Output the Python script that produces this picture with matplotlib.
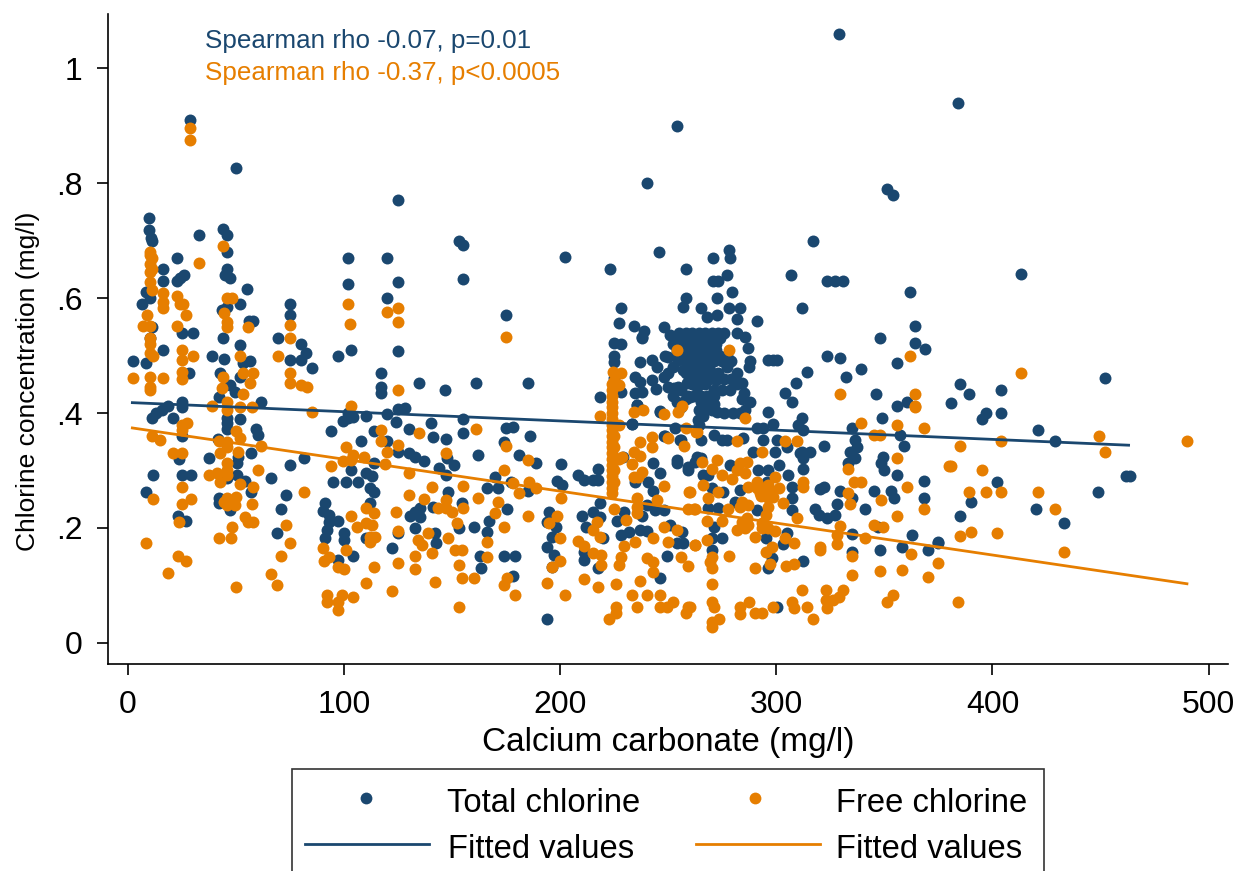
import numpy as np
import matplotlib
matplotlib.use('Agg')
import matplotlib.pyplot as plt
from matplotlib.lines import Line2D
from matplotlib.patches import Rectangle

W, H = 1239, 871
NAVY, ORANGE = '#1a476f', '#e67e00'

# values: (calcium carbonate, chlorine)
total_left = [(28.7,.91),(50,.826),(9.7,.74),(9.7,.718),(10.5,.705),(11,.70),(33,.71),(44,.72),(46,.71),(46,.68),
    (22.6,.67),(102,.67),(120,.67),(125,.77),(102,.625),(125,.627),(120,.60),(16,.65),(16,.63),(22.7,.63),(26,.64),
    (24,.635),(46,.65),(45,.64),(47,.635),(55,.615),(52,.59),(6.6,.59),(8.5,.61),(10,.60),(75,.59),(75,.57),(58,.56),
    (56,.56),(43.5,.58),(46,.585),(11,.55),(10,.53),(25,.54),(30,.54),(44,.53),(69.5,.53),(52,.518),(80,.52),(16,.51),
    (82.5,.505),(39,.50),(103,.51),(97,.50),(125,.508),(2.5,.49),(44.5,.494),(8.5,.487),(75,.492),(80,.492),(56.5,.49),
    (53,.487),(85,.478),(28,.47),(42.6,.47),(117,.47),(52,.463),(117,.445),(117,.435),(47,.449),(49.5,.437),(42,.428),
    (61.5,.42),(25,.419),(25,.41),(18.5,.412),(15.5,.405),(13,.40),(11,.391),(20.6,.391),(46,.391),(46,.382),(52,.39),
    (102,.40),(102,.391),(99.5,.386),(104,.393),(110,.395),(120,.398),(125,.407),(124,.384),(46,.372),(25,.36),(59,.372),
    (60,.362),(94,.369),(114,.369),(108,.351),(41.7,.355),(120,.351),(125,.332),(37.5,.322),(23.6,.32),(57,.33),(51,.323),
    (50.5,.313),(75,.31),(81.5,.322),(114,.313),(103,.30),(110,.295),(113,.29),(11.5,.292),(25,.292),(29,.292),(50.5,.292),
    (46,.287),(54,.282),(66,.287),(95,.28),(101,.28),(106.5,.28),(112,.27),(114,.263),(8.5,.263),(57,.263),(73,.257),
    (42,.252),(42,.243),(91,.243),(90,.23),(93,.222),(97,.212),(93,.21),(92,.197),(112,.243),(47,.231),(71,.233),(23,.22),
    (27,.212),(69,.191),(100,.191),(100,.179),(110,.183),(91,.183),(104,.151),(97,.144),(122,.165),(125,.191)]
total_mid = [(134.7,.452),(146.8,.44),(161,.452),(185,.453),(128,.408),(140,.382),(155,.39),(155,.365),(130,.372),
    (141,.358),(147,.355),(175,.374),(178,.376),(186,.36),(174,.35),(162,.327),(181,.327),(189,.313),(133,.323),(137,.317),
    (130,.33),(147.5,.322),(151,.31),(144,.304),(147,.292),(170,.289),(166,.27),(171,.27),(177,.28),(185,.264),(200.5,.311),
    (208,.292),(211,.283),(217.6,.302),(217.6,.283),(215,.283),(198.6,.282),(201,.275),(148,.263),(135,.235),(133,.228),
    (130.6,.221),(135,.219),(141,.237),(154.6,.243),(175.5,.233),(167,.212),(166,.193),(160,.202),(153,.20),(133,.20),
    (142,.191),(142.5,.174),(195,.228),(194,.21),(198,.202),(196,.184),(194,.167),(197,.153),(210,.221),(212,.202),
    (218.5,.243),(215,.228),(218.5,.219),(220,.183),(211,.158),(211,.144),(217.6,.13),(174,.151),(179,.151),(163,.151),
    (163.4,.13),(178,.117),(196,.132),(194,.042),(246,.113),(249.5,.151),(257,.174),(254,.174),(153,.70),(155,.692),
    (202,.671),(155,.633),(175,.57),(223,.65)]
total_near_column = [(225,.521),(228,.52),(225,.50),(225,.489),(225,.461),(218.5,.428),(237,.489),(242.6,.492),(245,.48),
    (248,.463),(234.7,.463),(237,.454),(242.6,.457),(244.4,.442),(234.7,.435),(238,.436),(228,.437),(238,.532),(235.6,.414),
    (246,.402),(233,.381),(248.6,.50),(248.6,.36),(256,.353),(254,.313),(259,.306),(259,.30),(243,.313),(246,.296),
    (240.7,.28),(243,.264),(234.7,.28),(229,.323),(240,.24),(244,.231),(248,.231),(226.4,.212),(229.6,.228),(238,.221),
    (228,.188),(232,.193),(237,.197),(240,.195),(251,.205),(256.5,.193)]
total_upper = [(245.6,.68),(258,.65),(270.6,.67),(278,.684),(278.6,.67),(317,.70),(307,.64),(270.6,.63),(273,.63),(277,.64),
    (323.6,.63),(327,.63),(331,.63),(258,.60),(257,.585),(279.6,.61),(272.7,.60),(228,.582),(265,.582),(278,.582),(283,.582),
    (282,.564),(312,.582),(227,.556),(234,.551),(238.6,.543),(238,.53),(248,.55),(251,.536),(268,.567),(272.7,.57),(291,.56),
    (240,.80),(254,.90),(329,1.06),(384,.94),(351,.79),(354,.78),(362,.61),(364,.551),(364,.522),(369,.511),(348,.53),
    (356,.487),(339,.476),(346,.433)]
total_cluster = [(255,.54),(258,.54),(261,.54),(264,.54),(267,.54),(270,.54),(273,.54),(276,.54),(282,.54),
    (253,.53),(256,.53),(259,.53),(262,.53),(265,.53),(268,.53),(271,.53),(274,.53),(285.6,.533),
    (252,.52),(255,.52),(258,.52),(261,.52),(264,.52),(267,.52),(270,.52),(272,.52),
    (254,.51),(257,.51),(260,.51),(263,.51),(266,.51),(269,.51),(272,.51),(287,.513),
    (250,.497),(255,.50),(258,.50),(261,.50),(264,.50),(267,.50),(270,.50),(274,.50),(277,.50),
    (254.6,.492),(258,.49),(261,.49),(264,.49),(267,.49),(271,.49),(275,.49),(279,.49),(288,.49),
    (257,.475),(260,.48),(263,.48),(266,.48),(269,.48),(277,.48),(287.5,.48),(282,.47),
    (258,.47),(261,.47),(264,.47),(267,.47),(270,.47),(273,.47),(260,.46),(263,.46),(266,.46),(269,.46),(272,.457),
    (258.8,.452),(261,.45),(264,.45),(267,.45),(254.6,.445),(252.5,.443),(263.4,.445),(271,.44),(278.7,.44),(284,.452),(285,.435),
    (256,.44),(259,.43),(262,.43),(265,.43),(268,.43),(271,.43),(275,.44),(260,.427),(288,.42),(265,.42),(268,.42),(271,.415),
    (264,.405),(285.6,.405),(280,.40),(272.7,.402),(276,.40),(283,.40),(268,.41),(263.6,.388),(266,.395),(264,.38),
    (250,.47),(252,.48),(250,.445),(252,.43),(254,.42),(256,.41),(258,.425),(276,.46),(279,.46),(282,.45),(270,.405),(284,.425)]
total_right = [(296,.492),(298.6,.492),(300.4,.492),(323.6,.50),(329.6,.496),(332.4,.462),(314,.472),(309,.452),(304,.435),
    (307.4,.42),(296,.402),(298.6,.381),(312,.391),(310,.379),(312.5,.37),(322,.343),(294,.353),(291,.374),(294,.374),
    (277,.353),(275,.353),(284.7,.356),(271,.362),(265,.353),(253,.374),(248,.36),(255.6,.353),(300.4,.353),(299.5,.332),
    (305,.341),(311,.33),(315.7,.332),(233,.381),(246,.403),(235.6,.414),(289,.332),(263.4,.323),(254,.318),(335,.374),
    (349,.391),(356,.412),(360.6,.42),(357,.362),(359,.343),(336.6,.353),(337.5,.341),(334,.332),(336.6,.322),(333,.313),
    (312,.332),(312.5,.322),(349.5,.323),(348.6,.313),(350,.30),(312.5,.302),(356,.292),(368.5,.282),(368.5,.252),(320,.268),
    (322,.271),(329.6,.264),(345,.264),(353,.264),(354.6,.252),(328,.242),(335,.252),(341,.233),(318,.233),(319.6,.222),
    (323.6,.217),(327,.222),(335,.19),(347,.202),(363,.188),(375,.176),(358,.167),(348,.162),(370,.162),(335,.158),(312.5,.143),
    (300.4,.063),(265,.322),(278.7,.31),(262.5,.315),(266,.292),(268.5,.292),(291.7,.30),(296,.30),(301,.31),(305.6,.292),
    (295.8,.28),(307.4,.271),(307.4,.252),(307.4,.231),(283,.266),(281,.245),(291,.231),(270.4,.27),(275.5,.263),(268.5,.235),
    (273,.235),(271,.202),(275,.183),(270.4,.183),(270,.162),(295,.183),(303,.172),(305,.191),(298,.148),(296,.13),
    (413,.641),(452,.461),(385,.45),(389,.433),(381,.417),(404,.44),(404,.40),(396.8,.40),(395,.39),(421,.37),(429,.351),
    (462,.29),(463.5,.29),(402,.28),(390,.245),(449,.263),(385,.221),(420,.233),(433,.209),(374.7,.174)]

free_left = [(28.7,.895),(28.7,.875),(44,.69),(33,.661),(10,.68),(10,.675),(11,.67),(10,.66),(11,.65),(10,.645),(10,.628),
    (11,.614),(16,.608),(16,.593),(16,.582),(22.6,.603),(24,.59),(25.6,.59),(27,.57),(22.7,.551),(8.7,.57),(7,.551),(10,.551),
    (10,.53),(46,.60),(48,.60),(44.5,.574),(46,.558),(46,.55),(55.6,.55),(75,.553),(75,.53),(102,.59),(102.5,.555),(120,.576),
    (125,.582),(125,.558),(10,.52),(10,.505),(11.5,.50),(25,.51),(25,.492),(30,.50),(52,.50),(69.5,.50),(2.5,.461),(10,.463),
    (10,.445),(10,.44),(16,.461),(25,.472),(25,.46),(44,.463),(43.5,.443),(53,.47),(58,.47),(56.5,.452),(53,.433),(75,.47),
    (75,.452),(80,.449),(83,.445),(125,.44),(39,.412),(46,.42),(46,.405),(52,.41),(57.5,.41),(103,.412),(85,.402),(25,.379),
    (27.5,.382),(25,.37),(11,.36),(15,.353),(42,.352),(46,.35),(50,.369),(52,.356),(46,.34),(61.5,.343),(42.6,.33),(51,.332),
    (20.6,.33),(25,.33),(117,.37),(117,.351),(120,.332),(125,.345),(101,.341),(104,.327),(99.5,.316),(103,.318),(109,.324),
    (94,.308),(119,.311),(46,.313),(46,.30),(46,.292),(41,.295),(37.5,.292),(42.6,.28),(60,.30),(52,.276),(58,.271),(25,.271),
    (81.5,.263),(11.5,.25),(29,.25),(25,.242),(46,.252),(50,.254),(46,.24),(49.5,.24),(44.5,.246),(57.5,.242),(110,.235),
    (114,.226),(113,.205),(110,.209),(106,.202),(103,.221),(124,.228),(54,.219),(55.7,.21),(58,.21),(23.6,.21),(48,.202),
    (73,.205),(125,.195),(112,.184),(114.5,.184),(112,.176),(42,.183),(47.5,.183),(8.5,.174),(75,.174),(101,.162),(90,.165),
    (93,.15),(90.5,.143),(71,.151),(23,.151),(27,.143),(97,.132),(100,.129),(114,.132),(125,.139),(18.7,.122),(66,.12),(69,.10),
    (110,.104),(50,.097),(122,.09),(92,.083),(92,.071),(104,.08),(99,.083),(97,.071),(97,.057)]
free_mid = [(175,.532),(254,.51),(161,.372),(134.7,.365),(175,.342),(147,.33),(185,.318),(174,.30),(130,.295),(140.6,.271),
    (155,.273),(178,.278),(185.6,.28),(189,.27),(181,.26),(200.5,.252),(130,.257),(137,.25),(162,.252),(171,.245),(170,.226),
    (147,.249),(143.5,.235),(147,.235),(150,.228),(152,.209),(155,.235),(185,.221),(174,.202),(139,.191),(148,.183),(134,.179),
    (136,.17),(166,.176),(151.5,.162),(154.6,.162),(140.6,.156),(133,.151),(166,.15),(153,.136),(133,.129),(154.6,.113),(160,.113),
    (142,.106),(175.5,.113),(174,.10),(179,.083),(153,.063),(198.6,.221),(195,.209),(199.7,.183),(208,.177),(211,.169),(217,.21),
    (215,.197),(218.5,.184),(225,.233),(230.6,.214),(215,.156),(219,.153),(219,.136),(200,.143),(196,.132),(211,.111),(194,.104),
    (202,.083),(217.6,.097),(226,.103),(226,.063),(226,.052),(222.7,.042),(233,.083),(240,.083),(246,.083),(235.6,.063),(246,.063),
    (249.5,.063),(252,.071),(259,.063),(258,.052),(237,.108),(228,.15),(227,.136),(229.6,.169),(234.7,.176),(243,.183),(250,.176),
    (240,.148),(243,.141),(243,.123),(256,.15),(259,.134),(262.5,.17),(248,.202),(254,.197),(235.6,.252),(235.6,.237),(235.6,.226),
    (245,.249),(259,.233),(262.5,.233),(259.7,.263),(248,.273),(234,.332),(237,.325),(233,.311),(237,.35),(242.6,.358),(242.6,.341),
    (250,.356),(257.5,.343),(234,.402),(238.4,.405),(248,.398),(254.6,.402),(256.5,.412),(218.5,.395),(258,.374),(263,.367),
    (234,.289),(238,.297),(236,.289),(228.6,.323),(227,.449),(224.5,.471),(228,.47),(278,.51)]
free_column = [(224,.45),(224,.44),(224,.43),(224,.42),(224,.41),(224,.40),(224,.39),(224,.38),(224,.37),(224,.36),(224,.35),
    (224,.34),(224,.33),(224,.32),(224,.31),(224,.30),(224,.29),(224,.28),(224,.27),(224,.26),(225,.455),(225,.38),(225,.36),
    (225,.34),(225,.32),(225,.30),(225,.28),(227,.38),(227,.32)]
free_right = [(285.6,.391),(263.5,.367),(281.6,.351),(304,.351),(309.7,.351),(293.5,.332),(272.7,.318),(265.4,.315),(333,.302),
    (270.4,.302),(275,.292),(279.6,.285),(266,.275),(273,.263),(268.5,.252),(262,.233),(277.8,.233),(268,.212),(275,.212),(260,.263),
    (283,.313),(286.6,.315),(282,.30),(285.6,.296),(287,.271),(291,.28),(292.6,.26),(295.8,.254),(299.5,.289),(301,.27),(298.6,.254),
    (303,.243),(294,.27),(296,.275),(291,.27),(297,.265),(293,.255),(284,.245),(283,.237),(287,.24),(296,.237),(295,.222),(293.5,.209),
    (293.5,.20),(286.6,.217),(284,.21),(287,.205),(282,.197),(285.6,.20),(296,.20),(299.5,.195),(290,.184),(312.5,.28),(312.5,.271),
    (336,.28),(339,.28),(333,.261),(334,.242),(348.6,.249),(360.6,.271),(356,.221),(368.5,.233),(309.7,.217),(345,.205),(349.5,.202),
    (329.6,.203),(328,.188),(328,.172),(341,.183),(304,.183),(308,.174),(320,.167),(320,.162),(298,.167),(295,.158),(335,.151),(262.5,.17),
    (268,.179),(278,.151),(270.4,.15),(269.5,.141),(270,.13),(297,.137),(290,.13),(304.6,.134),(308,.137),(362.5,.155),(375,.139),
    (358,.127),(348,.125),(370,.115),(335,.118),(270,.103),(312,.092),(323,.092),(323,.075),(323.6,.061),(326.4,.075),(331,.092),(329,.08),
    (354,.083),(351,.071),(270.4,.071),(271,.063),(283,.063),(283,.05),(287.5,.071),(290,.052),(293.5,.052),(298.6,.063),(307.4,.071),
    (308,.061),(314,.063),(317,.042),(273.6,.042),(270.4,.037),(270.4,.028),(260,.063),(339,.382),(356,.379),(368.5,.374),(364,.412),
    (345,.362),(348,.362),(356,.322),(380,.308),(362,.50),(329.6,.433),(364,.433),(364,.41),(413,.47),(449.5,.36),(452,.332),(490,.351),
    (404,.351),(385,.343),(381,.308),(395,.30),(389,.263),(396.8,.263),(404,.263),(421,.263),(429,.233),(385,.186),(390,.193),(402,.191),
    (433,.158),(384,.071)]

fit_total_x, fit_total_y = [2, 463], [.418, .344]
fit_free_x, fit_free_y = [2, 490], [.374, .103]

x_ticks = [0, 100, 200, 300, 400, 500]
y_ticks = [0, .2, .4, .6, .8, 1]
y_labels = ['0', '.2', '.4', '.6', '.8', '1']

plt.rcParams['font.family'] = ['Liberation Sans', 'DejaVu Sans']

def fx(px):
    return px / W

def fy(py):
    return 1 - py / H

fig = plt.figure(figsize=(W / 100, H / 100), dpi=100)
ax = fig.add_axes([fx(107.5), fy(663.5), fx(1228 - 107.5), (663.5 - 14) / H])
ax.set_xlim(-9.5, 509)
ax.set_ylim(-.0357, 1.094)

tx, ty = zip(*(total_left + total_mid + total_near_column + total_upper + total_cluster + total_right))
ox, oy = zip(*(free_left + free_mid + free_column + free_right))
ax.scatter(tx, ty, s=74, color=NAVY, lw=0, zorder=2)
ax.scatter(ox, oy, s=74, color=ORANGE, lw=0, zorder=3)
ax.plot(fit_total_x, fit_total_y, color=NAVY, lw=2, zorder=4)
ax.plot(fit_free_x, fit_free_y, color=ORANGE, lw=2, zorder=4)

ax.spines['top'].set_visible(False)
ax.spines['right'].set_visible(False)
ax.spines['left'].set_linewidth(1.2)
ax.spines['bottom'].set_linewidth(1.2)
ax.set_xticks(x_ticks)
ax.set_yticks(y_ticks)
ax.set_yticklabels(y_labels)
ax.tick_params(length=8, width=1.2, labelsize=23)
ax.tick_params(axis='x', pad=11)
ax.tick_params(axis='y', pad=10)
ax.patch.set_visible(False)

fig.text(fx(668), fy(743), 'Calcium carbonate (mg/l)', fontsize=24, ha='center', va='center')
fig.text(fx(28), fy(381), 'Chlorine concentration (mg/l)', fontsize=19, rotation=90, ha='center', va='center')
fig.text(fx(205), fy(41), 'Spearman rho -0.07, p=0.01', fontsize=18.7, color=NAVY, va='center')
fig.text(fx(205), fy(73), 'Spearman rho -0.37, p<0.0005', fontsize=18.7, color=ORANGE, va='center')

# legend box runs off the bottom of the picture
fig.add_artist(Rectangle((fx(292), fy(880)), (1044 - 292) / W, (880 - 769) / H, transform=fig.transFigure,
                         fc='white', ec='#333333', lw=1.2))
for px, c in [(366, NAVY), (755, ORANGE)]:
    fig.add_artist(Line2D([fx(px)], [fy(798)], marker='o', ms=8.5, mew=0, color=c, ls='none', transform=fig.transFigure))
for x0, c in [(305, NAVY), (696, ORANGE)]:
    fig.add_artist(Line2D([fx(x0), fx(x0 + 124)], [fy(844), fy(844)], color=c, lw=2, transform=fig.transFigure))
for px, py, s in [(447, 803, 'Total chlorine'), (836, 803, 'Free chlorine'),
                  (448, 849, 'Fitted values'), (836, 849, 'Fitted values')]:
    fig.text(fx(px), fy(py), s, fontsize=23.6, va='center')

fig.savefig('out.png', dpi=100)
